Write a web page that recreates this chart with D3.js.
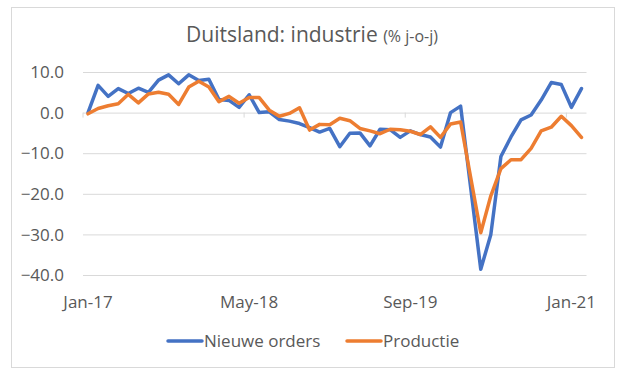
<!DOCTYPE html>
<html>
<head>
<meta charset="utf-8">
<script src="https://cdn.jsdelivr.net/npm/d3@7"></script>
<style>
  body { margin: 0; background: #fff; }
  text { font-family: "Open Sans", "Noto Sans", sans-serif; fill: #595959; }
  .grid line { stroke: #d9d9d9; stroke-width: 1; }
  .grid path { display: none; }
  .line { fill: none; stroke-width: 3.5; stroke-linejoin: round; stroke-linecap: round; }
</style>
</head>
<body>
<svg id="lineChart-1" width="625" height="376"></svg>
<script>
// data: monthly, Jan-17 .. Feb-21
const months = [
  'Jan-17','Feb-17','Mar-17','Apr-17','May-17','Jun-17','Jul-17','Aug-17','Sep-17','Oct-17','Nov-17','Dec-17',
  'Jan-18','Feb-18','Mar-18','Apr-18','May-18','Jun-18','Jul-18','Aug-18','Sep-18','Oct-18','Nov-18','Dec-18',
  'Jan-19','Feb-19','Mar-19','Apr-19','May-19','Jun-19','Jul-19','Aug-19','Sep-19','Oct-19','Nov-19','Dec-19',
  'Jan-20','Feb-20','Mar-20','Apr-20','May-20','Jun-20','Jul-20','Aug-20','Sep-20','Oct-20','Nov-20','Dec-20',
  'Jan-21','Feb-21'
];

const orders = [
  0.0, 6.7, 4.0, 5.9, 4.7, 6.0, 5.0, 8.0, 9.3, 7.1, 9.3, 7.9,
  8.2, 3.2, 3.0, 1.3, 4.4, 0.0, 0.2, -1.7, -2.1, -2.7, -3.7, -4.8,
  -3.9, -8.4, -5.1, -5.0, -8.2, -4.1, -4.2, -6.1, -4.5, -5.4, -6.0, -8.5,
  0.0, 1.6, -18.5, -38.6, -30.0, -10.8, -6.0, -1.8, -0.6, 3.1, 7.4, 6.9,
  1.3, 5.9
];

const production = [
  -0.3, 1.0, 1.7, 2.2, 4.5, 2.4, 4.6, 5.0, 4.5, 2.0, 6.3, 7.7,
  6.3, 2.7, 4.0, 2.3, 3.7, 3.7, 0.6, -0.9, -0.2, 1.2, -4.3, -2.9,
  -3.0, -1.4, -2.0, -3.9, -4.5, -5.2, -4.1, -4.2, -4.6, -5.4, -3.5, -6.1,
  -2.8, -2.3, -16.0, -29.6, -20.5, -13.8, -11.6, -11.6, -8.8, -4.5, -3.6, -0.9,
  -3.2, -6.1
];

const xTickLabels = ['Jan-17', 'May-18', 'Sep-19', 'Jan-21'];
const yTicks = [10, 0, -10, -20, -30, -40];

const seriesNames = ['Nieuwe orders', 'Productie'];
const colors = ['#4472c4', '#ed7d31'];

const width = 625, height = 376;
const svg = d3.select('#lineChart-1');

const plot = {left: 83, right: 586.5, top: 72, bottom: 275};

// outer frame
svg.append('rect')
  .attr('x', 11.5).attr('y', 7.5)
  .attr('width', 603).attr('height', 360)
  .attr('fill', '#fff')
  .attr('stroke', '#d9d9d9');

// ---------- Scales

const xScale = d3.scaleBand()
  .domain(months)
  .range([plot.left, plot.right]);

const yScale = d3.scaleLinear()
  .domain([-40, 10])
  .range([plot.bottom, plot.top]);

const xPos = (d, i) => xScale(months[i]) + xScale.bandwidth() / 2;

// y gridlines
svg.append('g')
  .attr('class', 'grid')
  .attr('transform', `translate(${plot.left}, 0)`)
  .call(d3.axisLeft(yScale)
    .tickValues(yTicks)
    .tickSize(-(plot.right - plot.left))
    .tickFormat('')
  );

// y labels
svg.append('g')
  .selectAll('text')
  .data(yTicks)
  .join('text')
    .attr('x', 64)
    .attr('y', d => yScale(d))
    .attr('dy', '0.36em')
    .attr('text-anchor', 'end')
    .style('font-size', '17px')
    .text(d => d3.format('.1f')(d));

// category axis ticks on the zero line
const tickIdx = [0, 16, 32, 48];
svg.append('g')
  .selectAll('line')
  .data(tickIdx)
  .join('line')
    .attr('x1', i => xScale(months[i]))
    .attr('x2', i => xScale(months[i]))
    .attr('y1', yScale(0))
    .attr('y2', yScale(0) + 5)
    .attr('stroke', '#d9d9d9');

// x labels
svg.append('g')
  .selectAll('text')
  .data(xTickLabels)
  .join('text')
    .attr('x', d => xScale(d) + xScale.bandwidth() / 2)
    .attr('y', 308)
    .attr('text-anchor', 'middle')
    .style('font-size', '17px')
    .text(d => d);

// lines
const line = d3.line()
  .x(xPos)
  .y(d => yScale(d));

[orders, production].forEach((s, k) => {
  svg.append('path')
    .datum(s)
    .attr('class', 'line')
    .attr('stroke', colors[k])
    .attr('d', line);
});

// title
const title = svg.append('text')
  .attr('x', 312)
  .attr('y', 42)
  .attr('text-anchor', 'middle');
title.append('tspan').style('font-size', '21px').text('Duitsland: industrie ');
title.append('tspan').style('font-size', '16px').text('(% j-o-j)');

// legend
const legendX = [168, 347];
const legend = svg.append('g');
seriesNames.forEach((name, k) => {
  legend.append('line')
    .attr('x1', legendX[k]).attr('x2', legendX[k] + 34)
    .attr('y1', 341).attr('y2', 341)
    .attr('stroke', colors[k])
    .attr('stroke-width', 3.5)
    .attr('stroke-linecap', 'round');
  legend.append('text')
    .attr('x', legendX[k] + 36)
    .attr('y', 347)
    .style('font-size', '17px')
    .text(name);
});
</script>
</body>
</html>
